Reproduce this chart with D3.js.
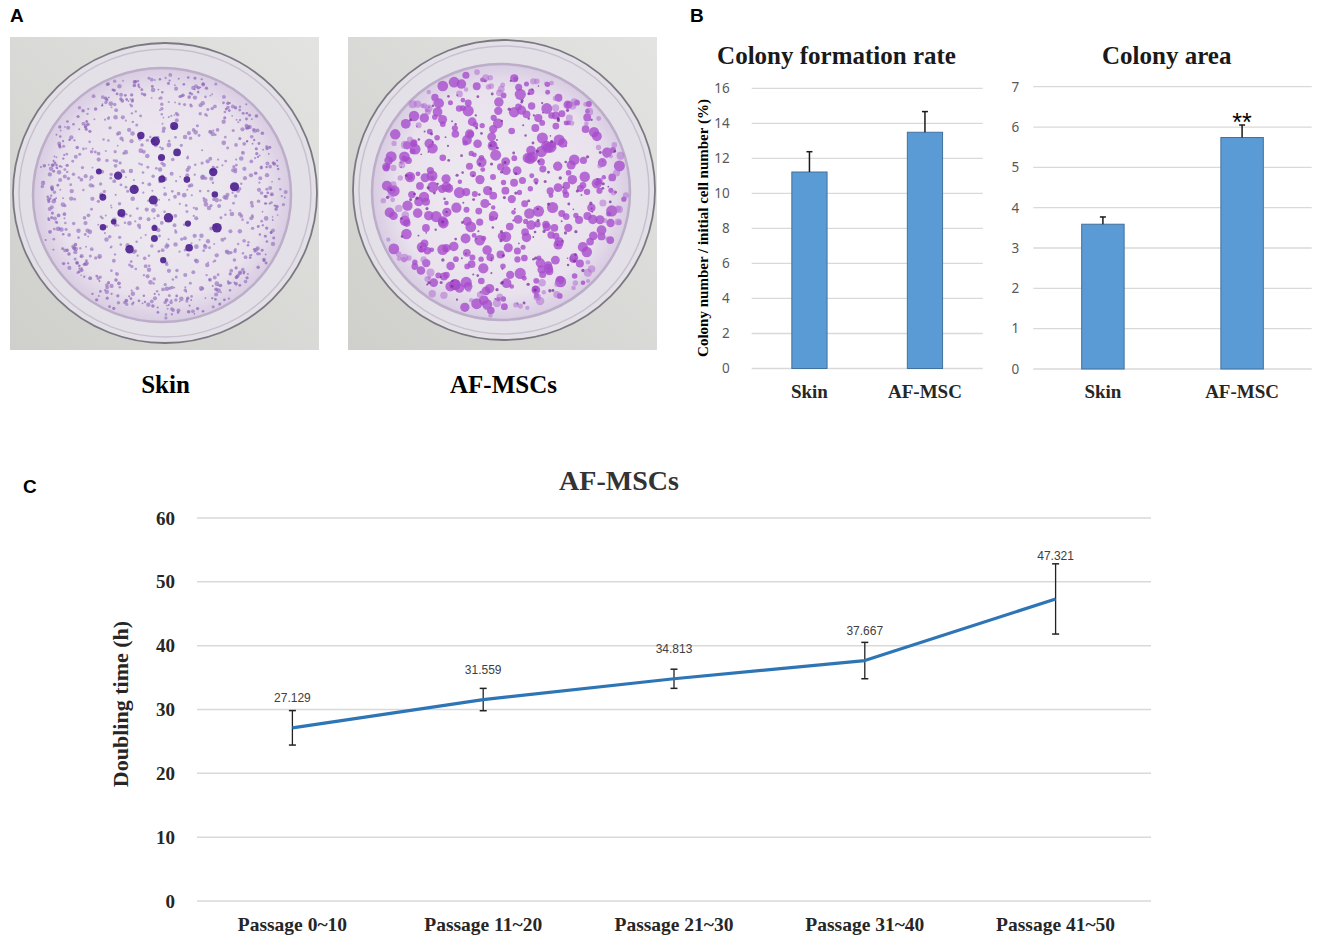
<!DOCTYPE html>
<html>
<head>
<meta charset="utf-8">
<script src="https://cdn.jsdelivr.net/npm/d3@7"></script>
<style>
  body { margin: 0; background: #fff; }
</style>
</head>
<body>
<div id="fig"></div>
<script>
// ---- data ----
const groups = ["Skin", "AF-MSC"];
const colonyRate = [11.22, 13.49];
const colonyRateErr = [1.16, 1.18];
const colonyArea = [3.59, 5.74];
const colonyAreaErr = [0.18, 0.31];
const areaMarks = ["", "**"];
const rateTicks = [0, 2, 4, 6, 8, 10, 12, 14, 16];
const areaTicks = [0, 1, 2, 3, 4, 5, 6, 7];

const passages = ["Passage 0~10", "Passage 11~20", "Passage 21~30", "Passage 31~40", "Passage 41~50"];
const doubling = [27.129, 31.559, 34.813, 37.667, 47.321];
const doublingErr = [2.7, 1.75, 1.5, 2.85, 5.5];
const doublingTicks = [0, 10, 20, 30, 40, 50, 60];

const plateLabels = ["Skin", "AF-MSCs"];

const SERIF = "'Liberation Serif', 'Times New Roman', serif";
const SANS = "'Liberation Sans', Arial, sans-serif";

const svg = d3.select("#fig")
    .append("svg")
    .attr("width", 1325)
    .attr("height", 943)
    .style("font-family", SERIF);

// panel letters
svg.append("g").selectAll("text")
    .data([["A", 10, 22], ["B", 690, 22], ["C", 23, 493]])
    .join("text")
    .attr("x", d => d[1])
    .attr("y", d => d[2])
    .attr("font-family", SANS)
    .attr("font-weight", "bold")
    .attr("font-size", "19px")
    .text(d => d[0]);

// ---- panel A: stained plates (drawn as a stylised photo) ----
const defs = svg.append("defs");
const bg = defs.append("linearGradient").attr("id", "photoBg")
    .attr("x1", 0).attr("y1", 1).attr("x2", 1).attr("y2", 0);
bg.append("stop").attr("offset", "0%").attr("stop-color", "#cfcfcc");
bg.append("stop").attr("offset", "100%").attr("stop-color", "#e3e3e1");
const floor = defs.append("radialGradient").attr("id", "plateFloor");
floor.append("stop").attr("offset", "0%").attr("stop-color", "#efeaf1");
floor.append("stop").attr("offset", "80%").attr("stop-color", "#e9e2ed");
floor.append("stop").attr("offset", "100%").attr("stop-color", "#d8cce2");
defs.append("filter").attr("id", "soft")
    .append("feGaussianBlur").attr("stdDeviation", 0.5);

const plates = [
    { box: [10, 37, 309, 313], outer: [165, 193, 152, 150], inner: [162, 195, 129, 127],
      dots: [
        { n: 620, rmin: 0.9, rmax: 2.4, color: "#9a78c2", op: 0.7, spread: 0.99 },
        { n: 260, rmin: 0.8, rmax: 1.9, color: "#8a5fb8", op: 0.7, spread: 1.0, ring: 0.84 },
        { n: 26, rmin: 2.6, rmax: 5.0, color: "#4b1e8e", op: 0.9, spread: 0.6 }
      ] },
    { box: [348, 37, 309, 313], outer: [504, 190, 151, 150], inner: [501, 192, 129, 128],
      dots: [
        { n: 330, rmin: 2.2, rmax: 5.6, color: "#a84ccc", op: 0.8, spread: 0.99 },
        { n: 170, rmin: 0.8, rmax: 1.7, color: "#7d2f9e", op: 0.75, spread: 0.97 },
        { n: 110, rmin: 2.0, rmax: 4.2, color: "#b36ed4", op: 0.55, spread: 1.0, ring: 0.84 }
      ] }
];

// deterministic integer hash in [0,1), used only to break up the spiral texture
const hash = (i, s) => {
    let h = Math.imul(i + 1, 0x9E3779B1) ^ Math.imul(s + 7, 0x85EBCA77);
    h ^= h >>> 15;
    h = Math.imul(h, 0x2C1B3C6D);
    h ^= h >>> 12;
    h = Math.imul(h, 0x297A2D39);
    h ^= h >>> 15;
    return (h >>> 0) / 4294967296;
};
const golden = Math.PI * (3 - Math.sqrt(5));

plates.forEach((p, k) => {
    const g = svg.append("g");
    g.append("rect")
        .attr("x", p.box[0]).attr("y", p.box[1])
        .attr("width", p.box[2]).attr("height", p.box[3])
        .attr("fill", "url(#photoBg)");
    g.append("ellipse")
        .attr("cx", p.outer[0]).attr("cy", p.outer[1])
        .attr("rx", p.outer[2]).attr("ry", p.outer[3])
        .attr("fill", "#e4e0e7").attr("stroke", "#7c7882").attr("stroke-width", 1.8);
    g.append("ellipse")
        .attr("cx", p.outer[0]).attr("cy", p.outer[1])
        .attr("rx", p.outer[2] - 6).attr("ry", p.outer[3] - 6)
        .attr("fill", "none").attr("stroke", "#c8c0cf").attr("stroke-width", 1.5);
    g.append("ellipse")
        .attr("cx", p.inner[0]).attr("cy", p.inner[1])
        .attr("rx", p.inner[2]).attr("ry", p.inner[3])
        .attr("fill", "url(#plateFloor)").attr("stroke", "#bcaec8").attr("stroke-width", 2.5);

    const dotLayer = g.append("g").attr("filter", "url(#soft)");
    p.dots.forEach((s, j) => {
        const seed = k * 10 + j;
        const pts = d3.range(s.n).map(i => {
            const t = (i + 0.5) / s.n;
            const frac = s.ring ? s.ring + (1 - s.ring) * hash(i, seed * 3 + 1) : Math.sqrt(t);
            const rr = Math.min(1, s.spread * frac * (0.9 + 0.14 * hash(i, seed * 3 + 2)));
            const a = i * golden + (hash(i, seed * 3 + 3) - 0.5) * 0.7 + j * 1.3;
            return {
                x: p.inner[0] + Math.cos(a) * rr * (p.inner[2] - 4),
                y: p.inner[1] + Math.sin(a) * rr * (p.inner[3] - 4),
                r: s.rmin + (s.rmax - s.rmin) * hash(i, seed * 3 + 4)
            };
        });
        dotLayer.append("g").selectAll("circle")
            .data(pts)
            .join("circle")
            .attr("cx", d => d.x).attr("cy", d => d.y).attr("r", d => d.r)
            .attr("fill", s.color).attr("opacity", s.op);
    });

    svg.append("text")
        .attr("x", p.box[0] + p.box[2] / 2 + 1)
        .attr("y", 393)
        .attr("text-anchor", "middle")
        .attr("font-weight", "bold")
        .attr("font-size", "25px")
        .text(plateLabels[k]);
});

// ---- panel B: bar charts ----
function barChart(cfg) {
    const g = svg.append("g");
    const x = d3.scaleBand()
        .domain(groups)
        .range([cfg.x0, cfg.x1])
        .paddingInner(0.695)
        .paddingOuter(0.3475);
    const y = d3.scaleLinear()
        .domain([0, d3.max(cfg.ticks)])
        .range([cfg.yBottom, cfg.yTop]);

    // gridlines
    g.selectAll("line.grid")
        .data(cfg.ticks)
        .join("line")
        .attr("class", "grid")
        .attr("x1", cfg.x0).attr("x2", cfg.x1)
        .attr("y1", d => y(d)).attr("y2", d => y(d))
        .attr("stroke", "#d9d9d9").attr("stroke-width", 1.3);

    // tick labels
    const axis = g.append("g")
        .attr("transform", `translate(${cfg.x0},0)`)
        .call(d3.axisLeft(y).tickValues(cfg.ticks).tickFormat(d3.format("d"))
            .tickSize(0).tickPadding(cfg.labelPad));
    axis.select(".domain").remove();
    axis.selectAll("text")
        .attr("font-family", "'Noto Sans', 'Open Sans', sans-serif")
        .attr("font-size", "13.5px")
        .attr("fill", "#595959");

    // bars
    g.selectAll("rect.bar")
        .data(groups)
        .join("rect")
        .attr("class", "bar")
        .attr("x", d => x(d))
        .attr("width", x.bandwidth())
        .attr("y", (d, i) => y(cfg.values[i]))
        .attr("height", (d, i) => y(0) - y(cfg.values[i]))
        .attr("fill", "#5b9bd5")
        .attr("stroke", "#41719c")
        .attr("stroke-width", 1);

    // positive error bars
    const eb = g.selectAll("g.err")
        .data(groups)
        .join("g")
        .attr("class", "err");
    eb.append("line")
        .attr("x1", d => x(d) + x.bandwidth() / 2)
        .attr("x2", d => x(d) + x.bandwidth() / 2)
        .attr("y1", (d, i) => y(cfg.values[i]))
        .attr("y2", (d, i) => y(cfg.values[i] + cfg.errors[i]))
        .attr("stroke", "#1a1a1a").attr("stroke-width", 1.5);
    eb.append("line")
        .attr("x1", d => x(d) + x.bandwidth() / 2 - 3)
        .attr("x2", d => x(d) + x.bandwidth() / 2 + 3)
        .attr("y1", (d, i) => y(cfg.values[i] + cfg.errors[i]))
        .attr("y2", (d, i) => y(cfg.values[i] + cfg.errors[i]))
        .attr("stroke", "#1a1a1a").attr("stroke-width", 1.5);

    if (cfg.marks) {
        g.selectAll("text.mark")
            .data(groups)
            .join("text")
            .attr("class", "mark")
            .attr("x", d => x(d) + x.bandwidth() / 2)
            .attr("y", (d, i) => y(cfg.values[i] + cfg.errors[i]) + 6)
            .attr("text-anchor", "middle")
            .attr("font-family", SANS)
            .attr("font-size", "25px")
            .text((d, i) => cfg.marks[i]);
    }

    // category labels
    g.selectAll("text.cat")
        .data(groups)
        .join("text")
        .attr("class", "cat")
        .attr("x", d => x(d) + x.bandwidth() / 2)
        .attr("y", 398)
        .attr("text-anchor", "middle")
        .attr("font-weight", "bold")
        .attr("font-size", "19px")
        .attr("fill", "#262626")
        .text(d => d);

    // title
    g.append("text")
        .attr("x", cfg.titleX)
        .attr("y", 64)
        .attr("text-anchor", "middle")
        .attr("font-weight", "bold")
        .attr("font-size", "25px")
        .attr("fill", "#1a1a1a")
        .text(cfg.title);

    if (cfg.yLabel) {
        g.append("text")
            .attr("transform", `translate(708,228) rotate(-90)`)
            .attr("text-anchor", "middle")
            .attr("font-weight", "bold")
            .attr("font-size", "15px")
            .text(cfg.yLabel);
    }
}

barChart({
    x0: 751.7, x1: 982.7, yTop: 88.3, yBottom: 368.5,
    ticks: rateTicks, values: colonyRate, errors: colonyRateErr,
    labelPad: 22, title: "Colony formation rate", titleX: 836.5,
    yLabel: "Colony number / initial cell number (%)"
});
barChart({
    x0: 1033.3, x1: 1311.7, yTop: 86.7, yBottom: 369,
    ticks: areaTicks, values: colonyArea, errors: colonyAreaErr,
    labelPad: 14, title: "Colony area", titleX: 1166.7,
    marks: areaMarks
});

// ---- panel C: doubling time line chart ----
const cx0 = 197, cx1 = 1151;
const xC = d3.scaleBand().domain(passages).range([cx0, cx1]);
const yC = d3.scaleLinear().domain([0, 60]).range([901, 518]);
const gC = svg.append("g");
const px = d => xC(d) + xC.bandwidth() / 2;

gC.selectAll("line.grid")
    .data(doublingTicks)
    .join("line")
    .attr("x1", cx0).attr("x2", cx1)
    .attr("y1", d => yC(d)).attr("y2", d => yC(d))
    .attr("stroke", "#d9d9d9").attr("stroke-width", 1.5);

const axC = gC.append("g")
    .attr("transform", `translate(${cx0},0)`)
    .call(d3.axisLeft(yC).tickValues(doublingTicks).tickSize(0).tickPadding(22));
axC.select(".domain").remove();
axC.selectAll("text")
    .attr("font-family", SERIF)
    .attr("font-weight", "bold")
    .attr("font-size", "19px")
    .attr("fill", "#262626");

const axCx = gC.append("g")
    .attr("transform", `translate(0,901)`)
    .call(d3.axisBottom(xC).tickSize(0).tickPadding(16));
axCx.select(".domain").remove();
axCx.selectAll("text")
    .attr("font-family", SERIF)
    .attr("font-weight", "bold")
    .attr("font-size", "19.5px")
    .attr("fill", "#262626");

// error bars
const ebC = gC.selectAll("g.err")
    .data(passages)
    .join("g");
ebC.append("line")
    .attr("x1", d => px(d)).attr("x2", d => px(d))
    .attr("y1", (d, i) => yC(doubling[i] - doublingErr[i]))
    .attr("y2", (d, i) => yC(doubling[i] + doublingErr[i]))
    .attr("stroke", "#222").attr("stroke-width", 1.3);
[1, -1].forEach(sgn => {
    ebC.append("line")
        .attr("x1", d => px(d) - 3.5).attr("x2", d => px(d) + 3.5)
        .attr("y1", (d, i) => yC(doubling[i] + sgn * doublingErr[i]))
        .attr("y2", (d, i) => yC(doubling[i] + sgn * doublingErr[i]))
        .attr("stroke", "#222").attr("stroke-width", 1.5);
});

gC.append("path")
    .datum(passages)
    .attr("fill", "none")
    .attr("stroke", "#2e75b6")
    .attr("stroke-width", 3.2)
    .attr("stroke-linejoin", "round")
    .attr("d", d3.line().x(d => px(d)).y((d, i) => yC(doubling[i])));

gC.selectAll("text.val")
    .data(passages)
    .join("text")
    .attr("class", "val")
    .attr("x", d => px(d))
    .attr("y", (d, i) => Math.min(yC(doubling[i]) - 30, yC(doubling[i] + doublingErr[i]) - 8) + 4)
    .attr("text-anchor", "middle")
    .attr("font-family", SANS)
    .attr("font-size", "12px")
    .attr("fill", "#404040")
    .text((d, i) => doubling[i].toFixed(3));

gC.append("text")
    .attr("x", 619)
    .attr("y", 490)
    .attr("text-anchor", "middle")
    .attr("font-weight", "bold")
    .attr("font-size", "28px")
    .attr("fill", "#333")
    .text("AF-MSCs");

gC.append("text")
    .attr("transform", "translate(128,704) rotate(-90)")
    .attr("text-anchor", "middle")
    .attr("font-weight", "bold")
    .attr("font-size", "22px")
    .attr("fill", "#262626")
    .text("Doubling time (h)");
</script>
</body>
</html>
